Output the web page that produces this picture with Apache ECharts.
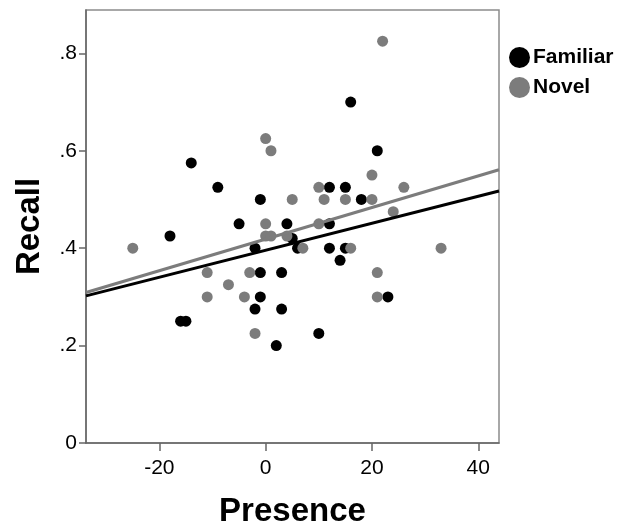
<!DOCTYPE html>
<html><head><meta charset="utf-8">
<script src="https://cdn.jsdelivr.net/npm/echarts@6/dist/echarts.min.js"></script>
<style>html,body{margin:0;padding:0;background:#fff}#c{width:617px;height:528px}</style>
</head><body><div id="c"></div>
<script>
const seriesNames = ['Familiar', 'Novel'];
const familiar = [[-14,0.575],[-9,0.525],[-1,0.5],[-5,0.45],[4,0.45],[16,0.7],[21,0.6],[12,0.525],[15,0.525],[18,0.5],[12,0.45],[-18,0.425],[-2,0.4],[6,0.4],[-1,0.35],[3,0.35],[-1,0.3],[-2,0.275],[3,0.275],[-16,0.25],[-15,0.25],[2,0.2],[12,0.4],[15,0.4],[14,0.375],[23,0.3],[10,0.225],[5,0.42]];
const novel = [[0,0.625],[1,0.6],[5,0.5],[0,0.45],[22,0.825],[20,0.55],[10,0.525],[26,0.525],[11,0.5],[15,0.5],[20,0.5],[24,0.475],[10,0.45],[-25,0.4],[0,0.425],[1,0.425],[4,0.425],[-11,0.35],[-3,0.35],[-7,0.325],[-11,0.3],[-4,0.3],[-2,0.225],[7,0.4],[16,0.4],[33,0.4],[21,0.35],[21,0.3]];
const familiarFit = [[-33.8,0.302],[43.9,0.5175]];
const novelFit = [[-33.8,0.309],[43.9,0.561]];
const xTicks = [-20, 0, 20, 40];
const yTicks = [0, 0.2, 0.4, 0.6, 0.8];
const yTickLabels = ['0', '.2', '.4', '.6', '.8'];

const FONT = "'Liberation Sans', Arial, sans-serif";
const BLACK = '#000000', GRAY = '#7c7c7c';
const chart = echarts.init(document.getElementById('c'));
chart.setOption({
  animation: false,
  backgroundColor: '#fff',
  grid: {left: 86, right: 118, top: 10, bottom: 85, outerBoundsMode: 'none', containLabel: false, show: true, borderColor: '#8c8c8c', borderWidth: 1.5, backgroundColor: 'transparent'},
  legend: {
    data: seriesNames, orient: 'vertical', left: 504, top: 42, icon: 'circle',
    itemWidth: 21, itemHeight: 21, itemGap: 9,
    textStyle: {fontFamily: FONT, fontSize: 21, fontWeight: 'bold', color: '#000', padding: [0,0,0,-2]}
  },
  xAxis: {
    type: 'value', min: -33.8, max: 43.9,
    name: 'Presence', nameLocation: 'middle', nameGap: 52,
    nameTextStyle: {fontFamily: FONT, fontSize: 33, fontWeight: 'bold', color: '#000'},
    axisLine: {show: true, onZero: false, lineStyle: {color: '#666', width: 1.5}},
    axisTick: {show: true, length: 8, customValues: xTicks, lineStyle: {color: '#666', width: 1.5}},
    axisLabel: {customValues: xTicks, fontFamily: FONT, fontSize: 21, color: '#000', margin: 15},
    splitLine: {show: false}
  },
  yAxis: {
    type: 'value', min: 0, max: 0.889,
    name: 'Recall', nameLocation: 'middle', nameGap: 40, nameRotate: 90,
    nameTextStyle: {fontFamily: FONT, fontSize: 33, fontWeight: 'bold', color: '#000'},
    axisLine: {show: true, onZero: false, lineStyle: {color: '#666', width: 1.5}},
    axisTick: {show: true, length: 7, customValues: yTicks, lineStyle: {color: '#666', width: 1.5}},
    axisLabel: {customValues: yTicks, fontFamily: FONT, fontSize: 21, color: '#000', margin: 9,
      formatter: v => { const i = yTicks.findIndex(t => Math.abs(t - v) < 1e-6); return i >= 0 ? yTickLabels[i] : ''; }},
    splitLine: {show: false}
  },
  series: [
    {name: seriesNames[0], type: 'scatter', data: familiar, symbolSize: 11, itemStyle: {color: BLACK, opacity: 1}, z: 2},
    {name: seriesNames[1], type: 'scatter', data: novel, symbolSize: 11, itemStyle: {color: GRAY, opacity: 1}, z: 3},
    {name: 'FamiliarFit', type: 'line', data: familiarFit, showSymbol: false, symbol: 'none', lineStyle: {color: BLACK, width: 3}, z: 4, silent: true},
    {name: 'NovelFit', type: 'line', data: novelFit, showSymbol: false, symbol: 'none', lineStyle: {color: GRAY, width: 3.2}, z: 4, silent: true}
  ]
});
</script></body></html>
